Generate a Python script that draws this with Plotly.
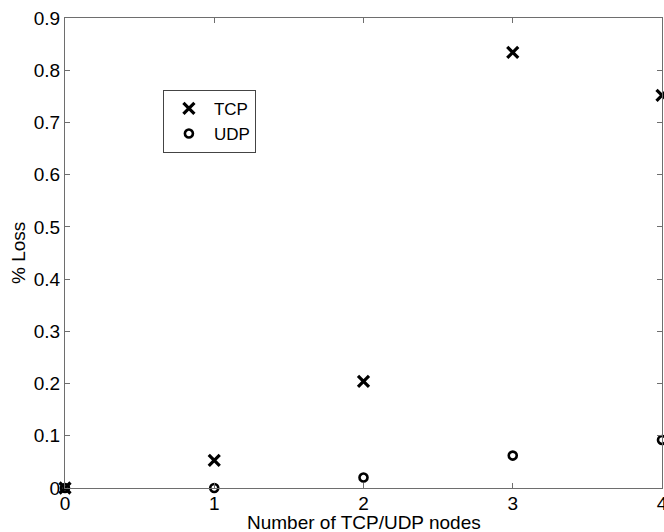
import plotly.graph_objects as go

# Packet loss versus number of competing TCP/UDP nodes
nodes = [0, 1, 2, 3, 4]
tcp_loss = [0.0, 0.053, 0.204, 0.834, 0.752]
udp_loss = [0.0, 0.0, 0.020, 0.062, 0.092]

x_ticks = [0, 1, 2, 3, 4]
y_ticks = [0, 0.1, 0.2, 0.3, 0.4, 0.5, 0.6, 0.7, 0.8, 0.9]
y_tick_text = ["0", "0.1", "0.2", "0.3", "0.4", "0.5", "0.6", "0.7", "0.8", "0.9"]

x_title = "Number of TCP/UDP nodes"
y_title = "% Loss"

font_family = "Liberation Sans, Arial, sans-serif"
axis_color = "#6e6e6e"
fs = 19

fig = go.Figure()
fig.add_trace(go.Scatter(
    x=nodes, y=tcp_loss, mode="markers", name="TCP", cliponaxis=False,
    marker=dict(symbol="x-thin-open", size=11, color="black",
                line=dict(color="black", width=3.2)),
))
fig.add_trace(go.Scatter(
    x=nodes, y=udp_loss, mode="markers", name="UDP", cliponaxis=False,
    marker=dict(symbol="circle-open", size=8, color="black",
                line=dict(color="black", width=2.6)),
))

axis_common = dict(
    showline=True, linecolor=axis_color, linewidth=1.3, mirror="ticks",
    ticks="inside", ticklen=5, tickcolor=axis_color, tickwidth=1,
    showgrid=False, zeroline=False, ticklabeloverflow="allow",
    automargin=False,
    tickfont=dict(family=font_family, size=fs, color="black"),
)

fig.update_layout(
    width=664, height=532,
    margin=dict(l=65, r=2, t=18, b=44),
    paper_bgcolor="white", plot_bgcolor="white",
    font=dict(family=font_family, size=fs, color="black"),
    xaxis=dict(range=[0, 4], tickvals=x_ticks, ticktext=[str(v) for v in x_ticks],
               ticklabelstandoff=-2, **axis_common),
    yaxis=dict(range=[0, 0.9], tickvals=y_ticks, ticktext=y_tick_text,
               **axis_common),
    showlegend=True,
    legend=dict(x=0.164, y=0.847, xanchor="left", yanchor="top",
                bgcolor="white", bordercolor="#444", borderwidth=1,
                font=dict(family=font_family, size=17),
                itemwidth=40, tracegroupgap=0),
    annotations=[
        dict(text=x_title, xref="paper", yref="paper", x=0.5, y=0,
             xanchor="center", yanchor="middle", yshift=-34, showarrow=False,
             font=dict(family=font_family, size=fs, color="black")),
        dict(text=y_title, xref="paper", yref="paper", x=0, y=0.5,
             xanchor="center", yanchor="middle", xshift=-47, textangle=-90,
             showarrow=False,
             font=dict(family=font_family, size=fs, color="black")),
    ],
)

fig.write_html("out.html")
